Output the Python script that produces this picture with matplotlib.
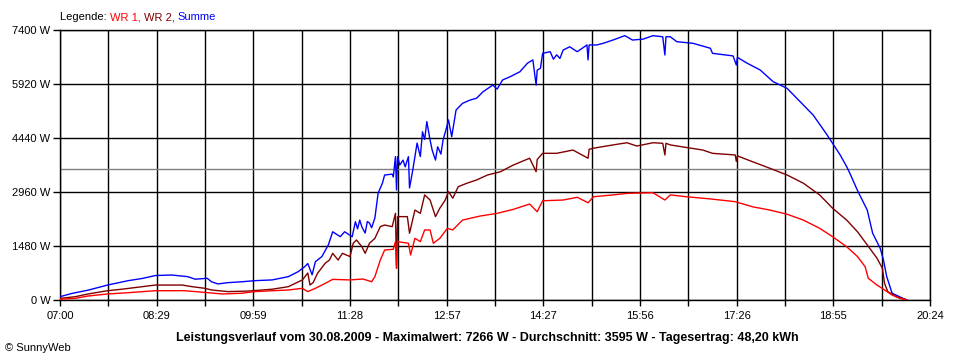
import matplotlib
matplotlib.use("Agg")
import matplotlib.pyplot as plt
import numpy as np

plt.rcParams["font.family"] = ["Liberation Sans", "DejaVu Sans"]

# ── Daten ──────────────────────────────────────────────────────────
summe_t = ["07:00", "07:11", "07:26", "07:44", "08:03", "08:16", "08:28", "08:43",
           "08:58", "09:05", "09:16", "09:20", "09:26", "09:35", "09:48", "10:00",
           "10:16", "10:31", "10:40", "10:46", "10:49", "10:53", "10:56", "11:02",
           "11:08", "11:09", "11:12", "11:19", "11:23", "11:30", "11:33", "11:35",
           "11:37", "11:39", "11:42", "11:44", "11:46", "11:48", "11:51", "11:54",
           "11:58", "12:00", "12:07", "12:08", "12:10", "12:11", "12:12", "12:14",
           "12:17", "12:19", "12:22", "12:23", "12:26", "12:30", "12:33", "12:35",
           "12:37", "12:39", "12:42", "12:44", "12:47", "12:49", "12:52", "12:54",
           "12:57", "12:59", "13:02", "13:06", "13:12", "13:19", "13:25", "13:31",
           "13:40", "13:44", "13:49", "13:56", "14:05", "14:12", "14:17", "14:20",
           "14:21", "14:24", "14:26", "14:33", "14:36", "14:39", "14:42", "14:45",
           "14:51", "14:58", "15:07", "15:08", "15:09", "15:16", "15:22", "15:31",
           "15:42", "15:49", "15:59", "16:08", "16:17", "16:19", "16:20", "16:24",
           "16:30", "16:45", "17:01", "17:03", "17:22", "17:25", "17:26", "17:35",
           "17:47", "17:59", "18:12", "18:24", "18:36", "18:49", "18:54", "19:01",
           "19:07", "19:10", "19:17", "19:26", "19:31", "19:38", "19:41", "19:44",
           "19:49", "19:59", "20:03"]
summe_w = [90, 180, 270, 410, 530, 590, 670, 685,
           640, 570, 595, 500, 440, 475, 500, 530,
           550, 640, 775, 910, 1000, 690, 1050, 1190,
           1510, 1600, 1870, 1735, 1870, 1735, 2145, 1950,
           2190, 2000, 1835, 2150, 2110, 1980, 2250, 2930,
           3205, 3425, 3450, 3370, 3930, 3015, 3930, 3700,
           3835, 3650, 3930, 3070, 3560, 4300, 3930, 4610,
           4400, 4890, 4385, 4100, 3835, 4200, 4000, 4385,
           4700, 4935, 4475, 5205, 5390, 5480, 5530, 5710,
           5890, 5780, 6030, 6120, 6255, 6490, 6580, 5890,
           6300, 6350, 6760, 6805, 6600, 6720, 6620, 6850,
           6940, 6805, 6990, 6580, 6990, 6990, 7035, 7125,
           7245, 7125, 7150, 7245, 7215, 6715, 7215, 7215,
           7080, 7035, 6900, 6760, 6690, 6440, 6650, 6490,
           6305, 5985, 5800, 5435, 5070, 4520, 4295, 3975,
           3655, 3470, 3000, 2465, 1830, 1415, 1095, 640,
           185, 45, 0]

wr2_t = ["07:00", "07:14", "07:26", "07:44", "07:57", "08:12", "08:28", "08:53",
         "09:02", "09:14", "09:20", "09:35", "09:54", "10:16", "10:31", "10:44",
         "10:49", "10:51", "10:54", "10:58", "11:05", "11:09", "11:12", "11:17",
         "11:21", "11:28", "11:31", "11:34", "11:39", "11:42", "11:46", "11:51",
         "11:56", "12:00", "12:07", "12:10", "12:11", "12:12", "12:21", "12:23",
         "12:28", "12:33", "12:37", "12:42", "12:47", "12:51", "12:56", "12:59",
         "13:03", "13:08", "13:16", "13:25", "13:35", "13:47", "13:59", "14:14",
         "14:20", "14:21", "14:26", "14:39", "14:54", "15:08", "15:09", "15:13",
         "15:31", "15:44", "15:53", "16:08", "16:17", "16:19", "16:20", "16:24",
         "16:54", "17:03", "17:24", "17:25", "17:26", "17:40", "17:56", "18:12",
         "18:27", "18:42", "18:54", "19:07", "19:17", "19:26", "19:35", "19:40",
         "19:42", "19:45", "19:53", "20:01"]
wr2_w = [45, 90, 165, 255, 295, 350, 410, 410,
         365, 320, 275, 230, 245, 295, 365, 550,
         740, 410, 480, 730, 1005, 1095, 1280, 1095,
         1280, 1190, 1555, 1645, 1460, 1280, 1555, 1690,
         2010, 2055, 2010, 2375, 870, 2285, 2285, 1830,
         2465, 2375, 2880, 2740, 2285, 2515, 2740, 2970,
         2790, 3105, 3200, 3290, 3425, 3515, 3700, 3885,
         3515, 3850, 4020, 4020, 4110, 3885, 4130, 4160,
         4250, 4310, 4220, 4310, 4295, 3975, 4295, 4250,
         4110, 4020, 3975, 3800, 3950, 3790, 3610, 3425,
         3200, 2880, 2515, 2190, 1870, 1510, 1145, 870,
         455, 230, 90, 20]

wr1_t = ["07:00", "07:14", "07:26", "07:44", "08:03", "08:28", "08:55", "09:05",
         "09:17", "09:30", "09:48", "10:00", "10:31", "10:44", "10:49", "10:56",
         "11:05", "11:12", "11:28", "11:40", "11:48", "11:51", "11:56", "12:00",
         "12:08", "12:10", "12:11", "12:12", "12:22", "12:24", "12:28", "12:33",
         "12:37", "12:42", "12:45", "12:51", "12:58", "13:03", "13:12", "13:28",
         "13:44", "13:59", "14:14", "14:21", "14:26", "14:45", "14:58", "15:08",
         "15:13", "15:31", "15:45", "16:08", "16:19", "16:24", "16:39", "17:01",
         "17:24", "17:40", "17:56", "18:12", "18:27", "18:42", "18:54", "19:07",
         "19:17", "19:24", "19:27", "19:35", "19:42", "19:49", "19:56", "20:03"]
wr1_w = [20, 45, 110, 165, 200, 255, 255, 230,
         200, 165, 185, 230, 275, 320, 230, 320,
         455, 565, 550, 575, 500, 640, 1095, 1370,
         1390, 1600, 870, 1600, 1555, 1235, 1690, 1600,
         1920, 1920, 1555, 1690, 1965, 1920, 2190, 2300,
         2375, 2485, 2630, 2420, 2720, 2740, 2815, 2665,
         2830, 2880, 2925, 2940, 2740, 2880, 2830, 2770,
         2695, 2555, 2465, 2350, 2190, 1965, 1735, 1460,
         1190, 915, 595, 410, 275, 135, 45, 0]

durchschnitt = 3595
y_ticks = [0, 1480, 2960, 4440, 5920, 7400]
x_labels = ["07:00", "08:29", "09:59", "11:28", "12:57", "14:27",
            "15:56", "17:26", "18:55", "20:24"]

titel = ("Leistungsverlauf vom 30.08.2009 - Maximalwert: 7266 W - "
         "Durchschnitt: 3595 W - Tagesertrag: 48,20 kWh")


def to_min(ts):
    return np.array([int(t[:2]) * 60 + int(t[3:]) for t in ts])


# ── Plot ───────────────────────────────────────────────────────────
fig = plt.figure(figsize=(9.6, 3.6), dpi=100)
ax = fig.add_axes([60 / 960, 60 / 360, 870 / 960, 270 / 360])

x0, x1 = to_min(["07:00", "20:24"])
ax.set_xlim(x0, x1)
ax.set_ylim(0, 7400)

major = np.linspace(x0, x1, len(x_labels))
minor = (major[:-1] + major[1:]) / 2
ax.set_xticks(major)
ax.set_xticklabels(x_labels)
ax.set_xticks(minor, minor=True)
ax.set_yticks(y_ticks)
ax.set_yticklabels([f"{v} W" for v in y_ticks])

ax.grid(which="both", color="black", lw=1.0, zorder=1)
ax.set_axisbelow(True)
for s in ax.spines.values():
    s.set_color("black")
    s.set_linewidth(1.0)
ax.tick_params(which="both", axis="x", length=4, width=1, color="black",
               labelsize=8, pad=4)
ax.tick_params(axis="y", length=5, width=1, color="black", labelsize=8, pad=2)

ax.axhline(durchschnitt, color="#808080", lw=1.0, zorder=2)

ax.plot(to_min(summe_t), summe_w, color="#0000FF", lw=1.0, zorder=3)
ax.plot(to_min(wr2_t), wr2_w, color="#800000", lw=1.0, zorder=4)
ax.plot(to_min(wr1_t), wr1_w, color="#FF0000", lw=1.0, zorder=5)

# Legende als farbiger Text
renderer = fig.canvas.get_renderer()
x = 60
for txt, col in [("Legende: ", "black"), ("WR 1, ", "#FF0000"),
                 ("WR 2, ", "#800000"), ("Summe", "#0000FF")]:
    t = fig.text(x / 960, 1 - 17 / 360, txt, color=col, fontsize=8,
                 va="center", ha="left")
    bb = t.get_window_extent(renderer)
    x = bb.x1

fig.text(487 / 960, 1 - 338 / 360, titel, ha="center", va="center",
         fontsize=9, fontweight="bold")
fig.text(5 / 960, 1 - 348 / 360, "© SunnyWeb", ha="left", va="center",
         fontsize=8)

fig.savefig("out.png", dpi=100, facecolor="white")
